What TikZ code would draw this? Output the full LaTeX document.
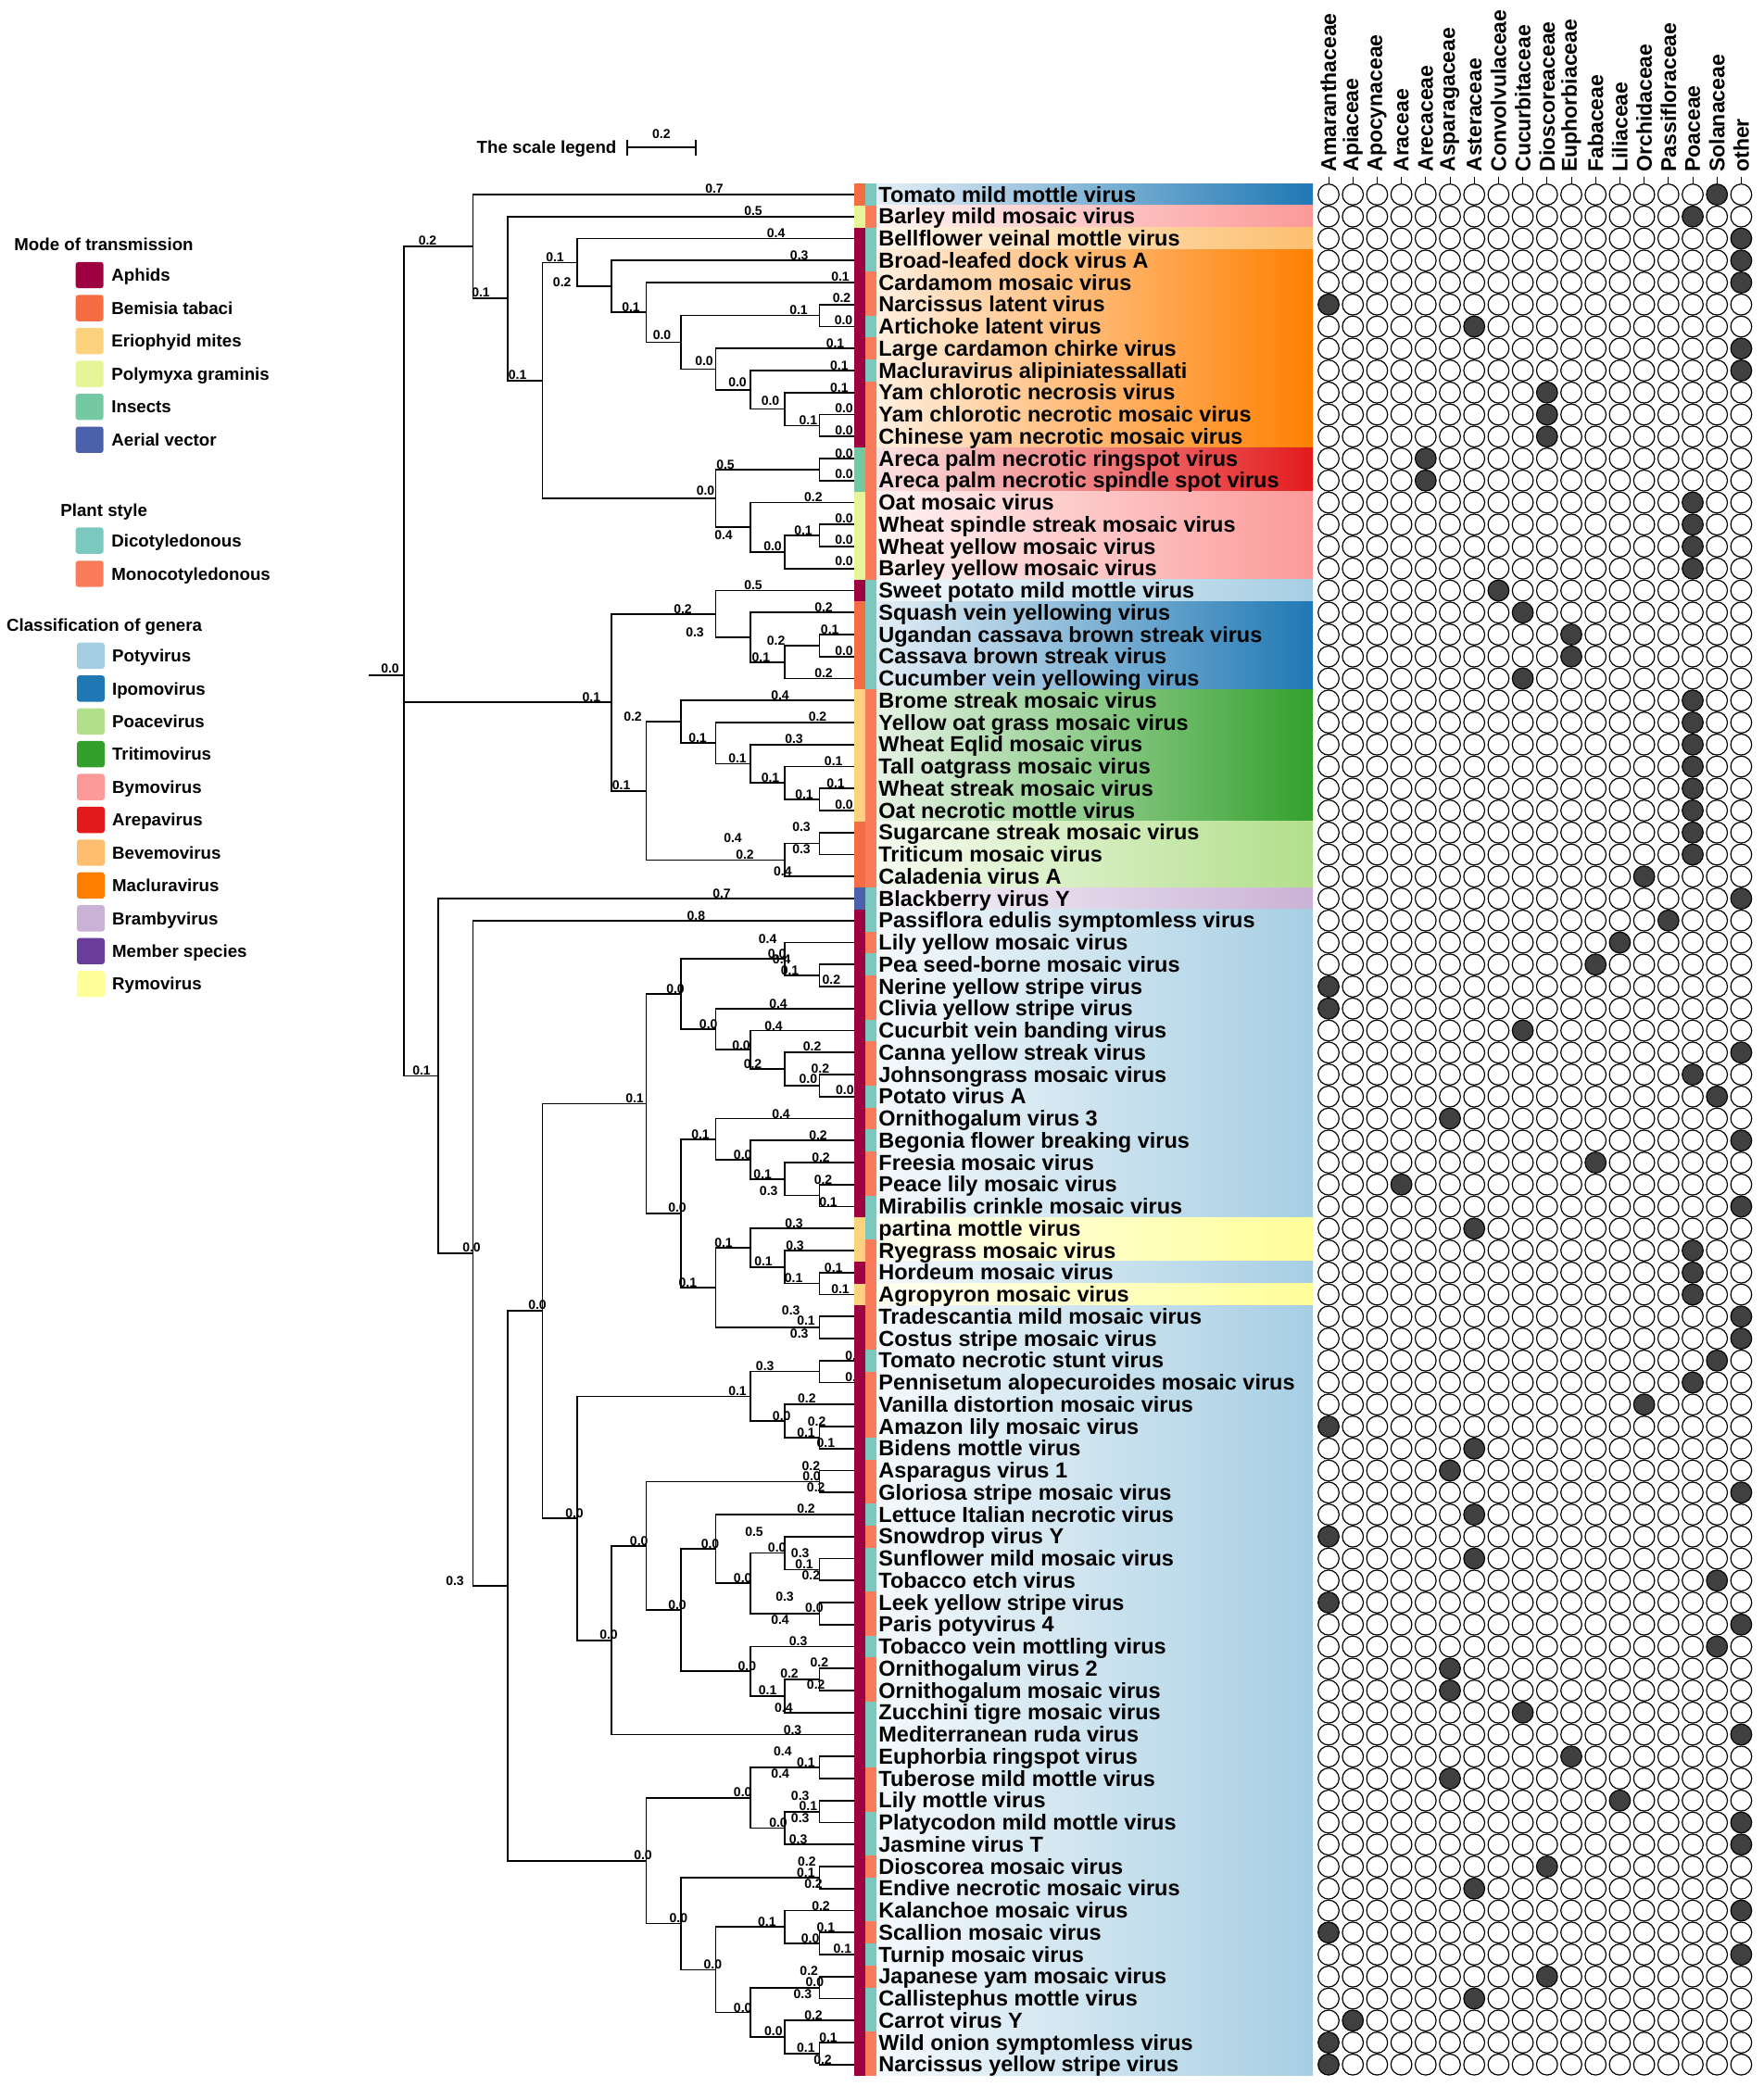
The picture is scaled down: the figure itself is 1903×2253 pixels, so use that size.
\documentclass[tikz,border=0pt]{standalone}
\usepackage{fontspec}
\setmainfont{Liberation Sans}
\usetikzlibrary{calc}
% transmission, plant and genus colours
\definecolor{aph}{HTML}{9E0142}
\definecolor{bem}{HTML}{F46D43}
\definecolor{mit}{HTML}{FDD27F}
\definecolor{pol}{HTML}{E6F59A}
\definecolor{ins}{HTML}{74C8A2}
\definecolor{aer}{HTML}{4C61AC}
\definecolor{dic}{HTML}{7BC8BE}
\definecolor{mon}{HTML}{FB7C5B}
\definecolor{pot}{HTML}{A6CEE3}
\definecolor{ipo}{HTML}{1F78B4}
\definecolor{poa}{HTML}{B2DF8A}
\definecolor{tri}{HTML}{33A02C}
\definecolor{bym}{HTML}{FB9A99}
\definecolor{are}{HTML}{E31A1C}
\definecolor{bev}{HTML}{FDBF6F}
\definecolor{mac}{HTML}{FF7F00}
\definecolor{bra}{HTML}{CAB2D6}
\definecolor{mem}{HTML}{6A3D9A}
\definecolor{rym}{HTML}{FFFF99}
\definecolor{hit}{HTML}{404040}
\begin{document}
\begin{tikzpicture}[x=0.5pt, y=-0.5pt,
    branch/.style={line width=0.85pt},
    bl/.style={font=\fontsize{7}{8}\selectfont\bfseries, inner sep=0pt},
    tiplab/.style={anchor=base west, inner sep=0pt, font=\fontsize{11.75}{13}\selectfont\bfseries},
    hdr/.style={rotate=90, anchor=west, inner sep=0pt, font=\fontsize{11.5}{12}\selectfont\bfseries},
    cell/.style={circle, draw, line width=0.6pt, minimum size=11.3pt, inner sep=0pt},
    lgd/.style={anchor=base west, inner sep=0pt, font=\fontsize{9.35}{11}\selectfont\bfseries},
    lgbox/.style={rounded corners=1.5pt, minimum width=15pt, minimum height=14.2pt, inner sep=0pt}]
\useasboundingbox (0,0) rectangle (1903,2253);

% genus background bands
\foreach \ra/\rb/\cl in {1/1/ipo, 2/2/bym, 3/3/bev, 4/12/mac, 13/14/are, 15/18/bym, 19/19/pot,
    20/23/ipo, 24/29/tri, 30/32/poa, 33/33/bra, 34/47/pot, 48/49/rym, 50/50/pot, 51/51/rym, 52/86/pot}
  \shade[left color=\cl!12!white, right color=\cl] (945.5,{174.375+\ra*23.75}) rectangle (1417,{198.125+\rb*23.75});

% leaves and depth levels
\foreach \i in {1,...,86}
  \coordinate (l\i) at (922,{186.25+\i*23.75});
\foreach \k in {0,...,13}
  \coordinate (lv\k) at ({922-37.4*\k},0);
\coordinate (stub) at (398,0);

% clades, children first
\foreach \n/\k/\ca/\cb in {
    c1112/1/l11/l12, T10/2/l10/c1112, T9/3/l9/T10, T8/4/l8/T9,
    c67/1/l6/l7, T7/5/c67/T8, T6/6/l5/T7, T5/7/l4/T6, T4/8/l3/T5,
    c1314/1/l13/l14, c1617/1/l16/l17, BY2/2/c1617/l18, BY/3/l15/BY2,
    TB/4/c1314/BY, T3/9/T4/TB, T2/10/l2/T3, T1/11/l1/T2,
    c2122/1/l21/l22, IP3/2/c2122/l23, IP2/3/l20/IP3, IP/4/l19/IP2,
    c2829/1/l28/l29, TRI4/2/l27/c2829, TRI3/3/l26/TRI4, TRI2/4/l25/TRI3, TRI/5/l24/TRI2,
    c3031/1/l30/l31, POA/2/c3031/l32, TR/6/TRI/POA, M/7/IP/TR,
    c3637/1/l36/l37, PAa/2/l35/c3637, c4142/1/l41/l42, PAd/2/l40/c4142,
    PAc/3/l39/PAd, PAb/4/l38/PAc, PA/5/PAa/PAb,
    c4647/1/l46/l47, PBc/2/l45/c4647, PBb/3/l44/PBc, PBa/4/l43/PBb,
    c5051/1/l50/l51, PBf/2/l49/c5051, PBe/3/l48/PBf, c5253/1/l52/l53,
    PBd/4/PBe/c5253, PB/5/PBa/PBd, P6/6/PA/PB,
    c5455/1/l54/l55, c5758/1/l57/l58, P7a2/2/l56/c5758, P7a/3/c5455/P7a2,
    c5960/1/l59/l60, c6364/1/l63/l64, Q3b/2/l62/c6364, c6566/1/l65/l66,
    Q3a/3/Q3b/c6566, Q3/4/l61/Q3a, c6869/1/l68/l69, Q4a/2/c6869/l70,
    Q4/3/l67/Q4a, Q2/5/Q3/Q4, Q1/6/c5960/Q2, P7b/7/Q1/l71, P7/8/P7a/P7b,
    P4/9/P6/P7,
    c7273/1/l72/l73, c7475/1/l74/l75, P5a2/2/c7475/l76, P5a/3/c7273/P5a2,
    c7778/1/l77/l78, c8081/1/l80/l81, P5d/2/l79/c8081, c8283/1/l82/l83,
    c8586/1/l85/l86, P5f/2/l84/c8586, P5e/3/c8283/P5f, P5c/4/P5d/P5e,
    P5b/5/c7778/P5c, P5/6/P5a/P5b, P3/10/P4/P5, P2/11/l34/P3, P/12/l33/P2} {
  \coordinate (\n-m) at ($(\ca)!.5!(\cb)$);
  \coordinate (\n) at (\n-m -| lv\k);
  \draw[branch] (\ca) -| (\n) |- (\cb);
}
% root joins three clades
\coordinate (root-m) at ($.3333*(T1)+.3333*(M)+.3334*(P)$);
\coordinate (root) at (root-m -| lv13);
\draw[branch] (T1) -| (root) |- (P);
\draw[branch] (root) |- (M);
\draw[branch] (root) -- (stub |- root);

% branch values
\foreach \bx/\by/\bt [count=\k] in {
    461.5/260/0.2, 771/204/0.7, 519/316/0.1, 813/227.5/0.5, 558.6/405/0.1, 599/277.5/0.1,
    761.5/529.5/0.0, 837.6/251.5/0.4, 606.7/305/0.2, 862.7/275.5/0.3, 681/332/0.1, 907/299/0.1,
    714.5/361.5/0.0, 862/335/0.1, 908.5/322/0.2, 910.5/346/0.0, 760/390/0.0, 901.5/370.5/0.1,
    796/413/0.0, 905.8/394.5/0.1, 831.5/433/0.0, 905.8/418.5/0.1, 872.4/454/0.1, 911/440.5/0.0,
    911/464.5/0.0, 783/501.5/0.5, 911/490/0.0, 911/512/0.0, 781/577.7/0.4, 877.8/537/0.2,
    834/590/0.0, 867/573/0.1, 911/560/0.0, 911/583/0.0, 911/606/0.0, 421/721.5/0.0,
    638.3/753/0.1, 737/658/0.2, 670.6/848/0.1, 813/632/0.5, 750/682.7/0.3, 889/655.5/0.2,
    821.4/710/0.1, 837.6/691.7/0.2, 895.7/680/0.1, 911/702.7/0.0, 889/726.7/0.2, 683/773.3/0.2,
    804/922.7/0.2, 842/750.7/0.4, 753/797/0.1, 882.5/774/0.2, 796/819/0.1, 857/797.7/0.3,
    831.5/840/0.1, 899.7/821.7/0.1, 868/857.3/0.1, 902/846/0.1, 911/868.3/0.0, 791/905/0.4,
    865/893/0.3, 865/917/0.3, 844.8/940.7/0.4,
    455/1155.7/0.1, 779/965/0.7, 509/1347/0.0, 751.4/988.3/0.8, 491/1706.7/0.3, 580/1409/0.0,
    694/2002.7/0.0, 685/1186/0.1, 620/1633.3/0.0, 729/1067.3/0.0, 731/1304/0.0, 838.7/1030/0.0,
    828.6/1013.3/0.4, 852.5/1047.7/0.1, 843.7/1036/0.4, 897.4/1057.7/0.2, 764.7/1105.7/0.0,
    840/1083.3/0.4, 800/1128.3/0.0, 835/1107.3/0.4, 812.5/1148.3/0.2, 876.6/1130/0.2,
    872.4/1165/0.0, 885.3/1154/0.2, 911.9/1176.7/0.0, 756/1225/0.1, 742.4/1385/0.1,
    843/1202.3/0.4, 801.7/1246.7/0.0, 883/1226/0.2, 823.2/1267.3/0.1, 886/1249.3/0.2,
    829.7/1285.3/0.3, 888.5/1273.3/0.2, 894/1297.3/0.1, 781/1341.7/0.1, 857/1320.7/0.3,
    824/1361.7/0.1, 858/1344.3/0.3, 856.6/1380/0.1, 899.7/1368.3/0.1, 907/1391.7/0.1,
    870/1426/0.1, 853.7/1415/0.3, 862.7/1440/0.3, 796/1501.7/0.1, 825.7/1475/0.3,
    922/1463.3/0.0, 922/1486.7/0.0, 843.7/1528.3/0.0, 870.8/1510/0.2, 870/1546.7/0.1,
    881.6/1535/0.2, 891.4/1557.7/0.1, 657/1765/0.0, 689.7/1663.3/0.0, 855.5/1867.3/0.3,
    876/1594/0.0, 875.3/1582.3/0.2, 880.7/1605.7/0.2, 731/1732.3/0.0, 766.5/1666.7/0.0,
    806.4/1798.3/0.0, 870/1629/0.2, 801.7/1703.3/0.0, 838.7/1670.7/0.0, 814/1653.3/0.5,
    868/1688.3/0.1, 863.7/1676.7/0.3, 875.3/1701/0.2, 878.8/1736/0.0, 847/1724/0.3,
    842/1749/0.4, 861.6/1771.7/0.3, 828.6/1825/0.1, 852/1806.7/0.2, 884.3/1795/0.2,
    880.7/1818.3/0.2, 845.8/1843.3/0.4, 801.7/1935/0.0, 732.4/2070.7/0.0, 869.8/1902.3/0.1,
    844.8/1891/0.4, 842.2/1915/0.4, 840/1967.3/0.0, 872.4/1949.3/0.1, 863.7/1938.3/0.3,
    863.7/1962.3/0.3, 861.6/1985.3/0.3, 869.8/2021.7/0.1, 870.8/2010/0.2, 878/2033.3/0.2,
    769.4/2120.7/0.0, 827.9/2075/0.1, 801.7/2167.3/0.0, 886/2057.3/0.2, 874.6/2092.7/0.0,
    891.4/2080.7/0.1, 909.3/2104/0.1, 879.3/2140/0.0, 873.2/2127.7/0.2, 866.3/2152.3/0.3,
    834.8/2192.7/0.0, 878/2175.3/0.2, 869.8/2210.7/0.1, 894/2199.3/0.1, 888/2224/0.2}
  \node[bl] (b\k) at (\bx,\by) {\bt};

% transmission strip
\foreach \ra/\rb/\cl in {1/1/bem, 2/2/pol, 3/12/aph, 13/14/ins, 15/18/pol, 19/19/aph, 20/23/bem,
    24/29/mit, 30/32/bem, 33/33/aer, 34/47/aph, 48/49/mit, 50/50/aph, 51/51/mit, 52/86/aph}
  \fill[\cl] (922,{174.375+\ra*23.75}) rectangle (933.75,{198.125+\rb*23.75});
% plant strip
\foreach \ra/\rb/\cl in {1/1/dic, 2/2/mon, 3/4/dic, 5/6/mon, 7/7/dic, 8/8/mon, 9/9/dic, 10/18/mon,
    19/23/dic, 24/32/mon, 33/34/dic, 35/35/mon, 36/36/dic, 37/38/mon, 39/39/dic, 40/41/mon,
    42/42/dic, 43/43/mon, 44/44/dic, 45/46/mon, 47/48/dic, 49/53/mon, 54/54/dic, 55/57/mon,
    58/58/dic, 59/60/mon, 61/61/dic, 62/62/mon, 63/64/dic, 65/66/mon, 67/67/dic, 68/69/mon,
    70/72/dic, 73/74/mon, 75/76/dic, 77/77/mon, 78/79/dic, 80/80/mon, 81/81/dic, 82/82/mon,
    83/84/dic, 85/86/mon}
  \fill[\cl] (933.75,{174.375+\ra*23.75}) rectangle (945.5,{198.125+\rb*23.75});

% virus names
\foreach \n [count=\i] in {Tomato mild mottle virus, Barley mild mosaic virus,
    Bellflower veinal mottle virus, Broad-leafed dock virus A, Cardamom mosaic virus,
    Narcissus latent virus, Artichoke latent virus, Large cardamon chirke virus,
    Macluravirus alipiniatessallati, Yam chlorotic necrosis virus,
    Yam chlorotic necrotic mosaic virus, Chinese yam necrotic mosaic virus,
    Areca palm necrotic ringspot virus, Areca palm necrotic spindle spot virus,
    Oat mosaic virus, Wheat spindle streak mosaic virus, Wheat yellow mosaic virus,
    Barley yellow mosaic virus, Sweet potato mild mottle virus, Squash vein yellowing virus,
    Ugandan cassava brown streak virus, Cassava brown streak virus,
    Cucumber vein yellowing virus, Brome streak mosaic virus, Yellow oat grass mosaic virus,
    Wheat Eqlid mosaic virus, Tall oatgrass mosaic virus, Wheat streak mosaic virus,
    Oat necrotic mottle virus, Sugarcane streak mosaic virus, Triticum mosaic virus,
    Caladenia virus A, Blackberry virus Y, Passiflora edulis symptomless virus,
    Lily yellow mosaic virus, Pea seed-borne mosaic virus, Nerine yellow stripe virus,
    Clivia yellow stripe virus, Cucurbit vein banding virus, Canna yellow streak virus,
    Johnsongrass mosaic virus, Potato virus A, Ornithogalum virus 3,
    Begonia flower breaking virus, Freesia mosaic virus, Peace lily mosaic virus,
    Mirabilis crinkle mosaic virus, partina mottle virus, Ryegrass mosaic virus,
    Hordeum mosaic virus, Agropyron mosaic virus, Tradescantia mild mosaic virus,
    Costus stripe mosaic virus, Tomato necrotic stunt virus,
    Pennisetum alopecuroides mosaic virus, Vanilla distortion mosaic virus,
    Amazon lily mosaic virus, Bidens mottle virus, Asparagus virus 1,
    Gloriosa stripe mosaic virus, Lettuce Italian necrotic virus, Snowdrop virus Y,
    Sunflower mild mosaic virus, Tobacco etch virus, Leek yellow stripe virus,
    Paris potyvirus 4, Tobacco vein mottling virus, Ornithogalum virus 2,
    Ornithogalum mosaic virus, Zucchini tigre mosaic virus, Mediterranean ruda virus,
    Euphorbia ringspot virus, Tuberose mild mottle virus, Lily mottle virus,
    Platycodon mild mottle virus, Jasmine virus T, Dioscorea mosaic virus,
    Endive necrotic mosaic virus, Kalanchoe mosaic virus, Scallion mosaic virus,
    Turnip mosaic virus, Japanese yam mosaic virus, Callistephus mottle virus,
    Carrot virus Y, Wild onion symptomless virus, Narcissus yellow stripe virus}
  \node[tiplab] (t\i) at (948,{194.45+\i*23.75}) {\n};

% host family matrix
\foreach \hitcol [count=\row] in {16,15,17,17,17,0,6,17,17,9,9,9,4,4,15,15,15,15,7,8,10,10,8,
    15,15,15,15,15,15,15,15,13,17,14,12,11,0,0,8,17,15,16,5,17,11,3,17,6,15,15,15,17,17,16,
    15,13,0,6,5,17,6,0,6,16,0,17,16,5,5,8,17,10,5,12,17,17,9,6,17,0,17,9,6,1,0,0} {
  \foreach \col in {0,...,17} {
    \ifnum\col=\hitcol\relax \def\fc{hit}\else\def\fc{white}\fi
    \node[cell, fill=\fc] (m\row-\col) at ({1434+26.2*\col},{186.25+\row*23.75}) {};
  }
}
\foreach \h [count=\j from 0] in {Amaranthaceae, Apiaceae, Apocynaceae, Araceae, Arecaceae,
    Asparagaceae, Asteraceae, Convolvulaceae, Cucurbitaceae, Dioscoreaceae, Euphorbiaceae,
    Fabaceae, Liliaceae, Orchidaceae, Passifloraceae, Poaceae, Solanaceae, other} {
  \node[hdr] (hd\j) at ({1434+26.2*\j},186) {\h};
  \draw[line width=0.5pt] (m1-\j.north) -- ++(0,-7.5);
}

% scale legend
\node[lgd] (scl) at (514.3,165.9) {The scale legend};
\coordinate (sb1) at (676.7,159.3);
\coordinate (sb2) at (751,159.3);
\draw[branch] (sb1) -- (sb2);
\draw[branch] ($(sb1)+(0,-8.3)$) -- ($(sb1)+(0,8.3)$);
\draw[branch] ($(sb2)+(0,-8.3)$) -- ($(sb2)+(0,8.3)$);
\node[bl] (sclv) at ($(sb1)!.5!(sb2)+(0,-14.3)$) {0.2};

% legends
\node[lgd] (tmode) at (15,270.8) {Mode of transmission};
\foreach \cl/\tx [count=\i] in {aph/Aphids, bem/Bemisia tabaci, mit/Eriophyid mites,
    pol/Polymyxa graminis, ins/Insects, aer/Aerial vector} {
  \node[lgbox, fill=\cl] (km\i) at (96.7,{261.45+\i*35.55}) {};
  \node[lgd] (lm\i) at (120,{268.15+\i*35.55}) {\tx};
}
\node[lgd] (tplant) at (65,557.4) {Plant style};
\foreach \cl/\tx [count=\i] in {dic/Dicotyledonous, mon/Monocotyledonous} {
  \node[lgbox, fill=\cl] (kp\i) at (96.7,{547.7+\i*35.9}) {};
  \node[lgd] (lp\i) at (120,{554.4+\i*35.9}) {\tx};
}
\node[lgd] (tgenus) at (6.7,681.7) {Classification of genera};
\foreach \cl/\tx [count=\i] in {pot/Potyvirus, ipo/Ipomovirus, poa/Poacevirus, tri/Tritimovirus,
    bym/Bymovirus, are/Arepavirus, bev/Bevemovirus, mac/Macluravirus, bra/Brambyvirus,
    mem/Member species, rym/Rymovirus} {
  \node[lgbox, fill=\cl] (kg\i) at (98,{672.47+\i*35.43}) {};
  \node[lgd] (lg\i) at (120.7,{679.17+\i*35.43}) {\tx};
}
\end{tikzpicture}
\end{document}
